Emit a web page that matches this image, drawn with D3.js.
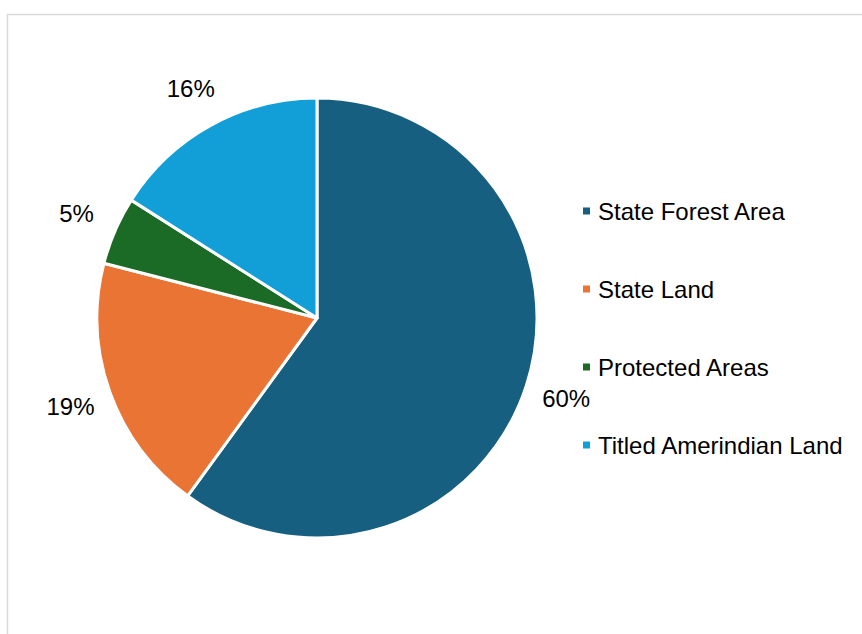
<!DOCTYPE html>
<html>
<head>
<meta charset="utf-8">
<script src="https://cdn.jsdelivr.net/npm/d3@7"></script>
<style>
  html, body { margin: 0; padding: 0; background: #fff; }
  svg { display: block; }
  text { font-family: "Liberation Sans", Arial, sans-serif; fill: #000; }
</style>
</head>
<body>
<svg id="chart" width="862" height="634"></svg>
<script>
// Land tenure shares (percent)
const categories = ["State Forest Area", "State Land", "Protected Areas", "Titled Amerindian Land"];
const shares = [60, 19, 5, 16];
const colors = ["#175f80", "#e97434", "#1b6a26", "#129fd8"];

const width = 862, height = 634;
const cx = 317, cy = 318, radius = 220, labelRadius = 262;

const svg = d3.select("#chart");

// chart area frame
svg.append("rect")
  .attr("x", 7.5).attr("y", 14.5)
  .attr("width", width + 20).attr("height", height + 20)
  .attr("fill", "none")
  .attr("stroke", "#d9d9d9")
  .attr("stroke-width", 1.5);

const data = categories.map((c, i) => ({ name: c, value: shares[i], color: colors[i] }));

const pie = d3.pie().sort(null).value(d => d.value);
const arcs = pie(data);
const arc = d3.arc().innerRadius(0).outerRadius(radius);
const labelArc = d3.arc().innerRadius(labelRadius).outerRadius(labelRadius);

const g = svg.append("g").attr("transform", `translate(${cx},${cy})`);

g.selectAll("path.slice")
  .data(arcs)
  .join("path")
  .attr("class", "slice")
  .attr("d", arc)
  .attr("fill", d => d.data.color)
  .attr("stroke", "#fff")
  .attr("stroke-width", 3)
  .attr("stroke-linejoin", "round");

g.selectAll("text.pct")
  .data(arcs)
  .join("text")
  .attr("class", "pct")
  .attr("transform", d => `translate(${labelArc.centroid(d)})`)
  .attr("text-anchor", "middle")
  .attr("dominant-baseline", "central")
  .style("font-size", "24px")
  .text(d => d.data.value + "%");

// legend
const legend = svg.append("g").attr("transform", "translate(583,211)");
const row = legend.selectAll("g.item")
  .data(data)
  .join("g")
  .attr("class", "item")
  .attr("transform", (d, i) => `translate(0,${i * 78})`);

row.append("rect")
  .attr("x", 0).attr("y", -3.5)
  .attr("width", 7).attr("height", 7)
  .attr("fill", d => d.color);

row.append("text")
  .attr("x", 15)
  .attr("dominant-baseline", "central")
  .style("font-size", "24px")
  .text(d => d.name);
</script>
</body>
</html>
